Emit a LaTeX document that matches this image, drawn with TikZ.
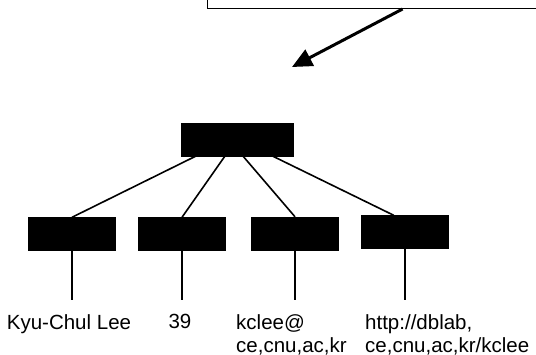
\documentclass[tikz,border=0pt]{standalone}
\usepackage{fontspec}
\setmainfont{Liberation Sans}
\usetikzlibrary{arrows.meta}

\tikzset{
  blk/.style={draw, fill=black, minimum width=87pt, minimum height=33pt, inner sep=0pt},
  edge/.style={line width=1.6pt},
  lbl/.style={inner sep=0pt, font=\fontsize{20.5}{23}\selectfont},
}

\begin{document}
\begin{tikzpicture}[x=1pt, y=-1pt]
  \useasboundingbox (0,0) rectangle (536,355);
  \clip (0,0) rectangle (536,355);
%%   kw   (name)   (x, y)   {text}
  \node[draw, line width=1.2pt, minimum width=400pt, minimum height=60pt, anchor=south west] (note) at (207, 9) {};
  \coordinate (pin) at (292, 67);

  \node[blk, minimum width=112pt] (root) at (237, 139.5) {};
  \node[blk] (c1) at (72, 234)  {};
  \node[blk] (c2) at (182, 234) {};
  \node[blk] (c3) at (295, 233.5) {};
  \node[blk] (c4) at (405, 232)   {};

  \node[lbl, anchor=north] (l1) at (69, 314)  {Kyu-Chul Lee};
  \node[lbl, anchor=north] (l2) at (180, 314) {39};
  \node[lbl, anchor=north west, align=left] (l3) at (236, 314) {kclee@\\ce,cnu,ac,kr};
  \node[lbl, anchor=north west, align=left] (l4) at (365, 314) {http://dblab,\\ce,cnu,ac,kr/kclee};

  \draw[line width=3pt, -{Triangle[length=20pt, width=18pt]}] ([xshift=-5pt]note.south) -- (pin);

  \draw[edge] (root.202) -- (c1.north);
  \draw[edge] (root.234) -- (c2.north);
  \draw[edge] (root.290) -- (c3.north);
  \draw[edge] (root.335) -- (c4.124);

  \draw[edge, shorten >=14pt] (c1.south) -- (c1.south |- l1.north);
  \draw[edge, shorten >=14pt] (c2.south) -- (c2.south |- l2.north);
  \draw[edge, shorten >=14pt] (c3.south) -- (c3.south |- l3.north);
  \draw[edge, shorten >=14pt] (c4.south) -- (c4.south |- l4.north);
\end{tikzpicture}
\end{document}
